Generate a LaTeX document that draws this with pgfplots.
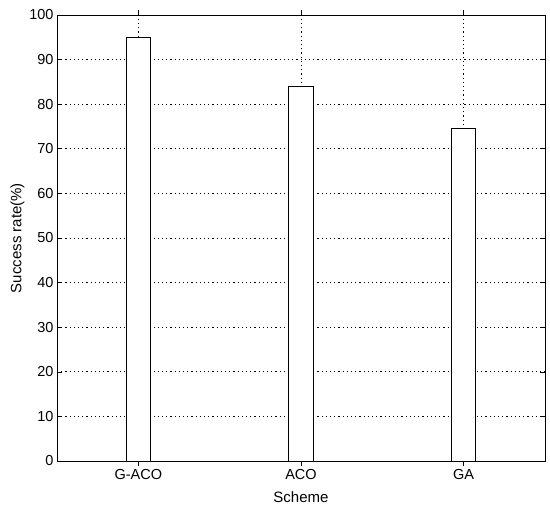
\documentclass[border=0pt]{standalone}
\usepackage{fontspec}
\setmainfont{Liberation Sans}
\usepackage{pgfplots}
\pgfplotsset{compat=1.18}
\begin{document}
\begin{tikzpicture}
\begin{axis}[
  name=ax,
  scale only axis,
  width=488pt, height=446pt,
  xmin=0.5, xmax=3.5,
  ymin=0, ymax=100,
  xtick={1,2,3},
  xticklabels={G-ACO,ACO,GA},
  ytick={0,10,...,100},
  tick align=inside,
  major tick length=5pt,
  tick style={black, line width=0.6pt},
  axis line style={black, line width=0.6pt},
  grid=major,
  major grid style={black, dash pattern=on 1.2pt off 3pt, line width=0.7pt},
  /pgf/number format/assume math mode=true,
  tick label style={font=\fontsize{14.5}{17}\selectfont},
  label style={font=\fontsize{15}{18}\selectfont},
  xlabel={Scheme},
  ylabel={Success rate(\%)},
  xlabel style={yshift=-5pt},
  ylabel style={yshift=-2pt},
  ybar, bar width=0.15,
]
\addplot[draw=black, fill=white, line width=0.8pt] coordinates {(1,95) (2,84) (3,74.5)};
\end{axis}
\path (ax.south west) ++(-57pt,-53pt);
\path (ax.north east) ++(5pt,15pt);
\end{tikzpicture}
\end{document}
